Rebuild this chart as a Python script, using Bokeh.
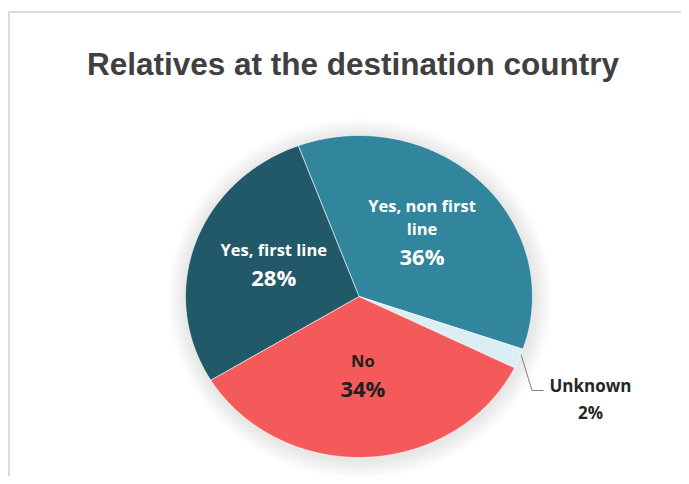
import numpy as np
from bokeh.plotting import figure
from bokeh.models import ColumnDataSource, Range1d
from bokeh.core.properties import value
from bokeh.embed import file_html
from bokeh.resources import INLINE

# ---- data ----
title_text = "Relatives at the destination country"
categories = ["Yes, non first line", "Unknown", "No", "Yes, first line"]
label_lines = [["Yes, non first", "line"], ["Unknown"], ["No"], ["Yes, first line"]]
shares = [36, 2, 34, 28]
colors = ["#31859c", "#daeef3", "#f45a5a", "#215968"]
label_colors = ["white", "#262626", "#1f1f1f", "white"]

# ---- layout ----
W, H = 681, 476
def sx(X):  # picture px -> data
    return X
def sy(Y):
    return H - Y

cx, cy = sx(358.5), sy(296)
rx, ry = 173.5, 161
start = np.deg2rad(110.5)

p = figure(width=W, height=H, output_backend="svg", toolbar_location=None,
           x_range=Range1d(0, W), y_range=Range1d(0, H), min_border=0,
           background_fill_color="white", border_fill_color="white")
p.axis.visible = False
p.grid.visible = False
p.outline_line_color = None

# frame
p.line([sx(8.5), sx(8.5), W], [0, sy(11.5), sy(11.5)], line_color="#cfcfcf", line_width=1.5)

# soft shadow
for k in range(12):
    p.ellipse(cx + 1, cy - 2, width=2 * rx + 4 + 3 * k, height=2 * ry + 4 + 3 * k,
              fill_color="#808080", fill_alpha=0.017, line_color=None)

# slices
tot = float(sum(shares))
xs, ys, mids = [], [], []
a0 = start
for s in shares:
    a1 = a0 - 2 * np.pi * s / tot
    t = np.linspace(a0, a1, max(8, int(abs(a1 - a0) * 60)))
    xs.append([cx] + list(cx + rx * np.cos(t)) + [cx])
    ys.append([cy] + list(cy + ry * np.sin(t)) + [cy])
    mids.append((a0 + a1) / 2)
    a0 = a1
src = ColumnDataSource(dict(xs=xs, ys=ys, color=colors, cat=categories))
p.patches("xs", "ys", source=src, fill_color="color", line_color="white", line_width=0.6)

font = value("Open Sans")
LINE_GAP, PCT_GAP, LIFT = 23, 28, 6
# inside labels
for i, (lines, s, m, col) in enumerate(zip(label_lines, shares, mids, label_colors)):
    if categories[i] == "Unknown":
        continue
    ax = cx + 0.52 * rx * np.cos(m)
    ay = cy + 0.52 * ry * np.sin(m) + LIFT
    n = len(lines)
    total_h = LINE_GAP * (n - 1) + PCT_GAP
    top = ay + total_h / 2
    for j, ln in enumerate(lines):
        p.text([ax], [top - LINE_GAP * j], text=[ln], text_align="center", text_baseline="middle",
               text_font=font, text_font_style="bold", text_font_size="16.5px", text_color=col)
    p.text([ax], [top - LINE_GAP * (n - 1) - PCT_GAP], text=[f"{s}%"], text_align="center",
           text_baseline="middle", text_font=font, text_font_style="bold",
           text_font_size="22px", text_color=col)

# outside label for Unknown with leader line
ui = categories.index("Unknown")
m = mids[ui]
ex, ey = cx + rx * np.cos(m), cy + ry * np.sin(m)
p.line([ex + 2, sx(531.5), sx(543)], [ey + 4, sy(390), sy(390)], line_color="#7f7f7f", line_width=1)
p.text([sx(590)], [sy(385)], text=[label_lines[ui][0]], text_align="center", text_baseline="middle",
       text_font=font, text_font_style="bold", text_font_size="17px", text_color=label_colors[ui])
p.text([sx(590)], [sy(412)], text=[f"{shares[ui]}%"], text_align="center", text_baseline="middle",
       text_font=font, text_font_style="bold", text_font_size="17px", text_color=label_colors[ui])

# title
p.text([sx(352.5)], [sy(63)], text=[title_text], text_align="center", text_baseline="alphabetic",
       text_font=value("Liberation Sans"), text_font_style="bold", text_font_size="31.5px",
       text_color="#404040")

open("out.html", "w").write(file_html(p, INLINE))
